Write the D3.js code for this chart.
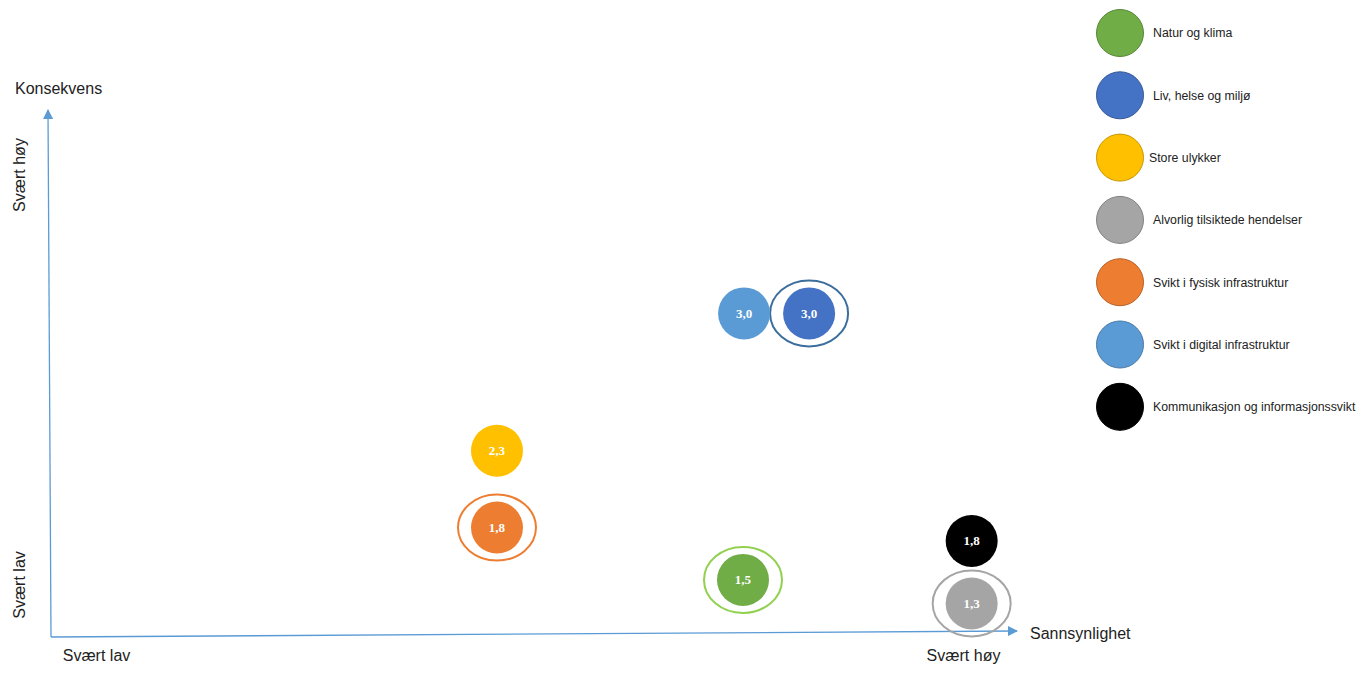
<!DOCTYPE html>
<html>
<head>
<meta charset="utf-8">
<script src="https://cdn.jsdelivr.net/npm/d3@7"></script>
<style>
  body { margin: 0; background: #fff; }
  svg { display: block; }
  text { font-family: "Liberation Sans", Arial, sans-serif; fill: #222; }
  .val { font-family: "Liberation Serif", "Times New Roman", serif; font-weight: bold; fill: #fff; font-size: 13px; }
</style>
</head>
<body>
<div class="chart"></div>
<script>
// categories and colours
var categories = ['Natur og klima', 'Liv, helse og miljø', 'Store ulykker',
    'Alvorlig tilsiktede hendelser', 'Svikt i fysisk infrastruktur',
    'Svikt i digital infrastruktur', 'Kommunikasjon og informasjonssvikt'];
var colors = ['#70AD47', '#4472C4', '#FFC000', '#A5A5A5', '#ED7D31', '#5B9BD5', '#000000'];
var ringColors = ['#92D050', '#3B6E9C', null, '#A5A5A5', '#ED7D31', null, null];

// position of each risk: sannsynlighet (x) and konsekvens (y), 1 = svært lav, 5 = svært høy
var sannsynlighet = [3.985, 4.29, 2.85, 5.04, 2.85, 3.99, 5.04];
var konsekvens = [1.05, 3.65, 2.31, 0.82, 1.56, 3.65, 1.43];
var scores = ['1,5', '3,0', '2,3', '1,3', '1,8', '3,0', '1,8'];

var tickValues = [1, 5];
var tickLabels = ['Svært lav', 'Svært høy'];

var fullWidth = 1364;
var fullHeight = 675;

var svg = d3.select('.chart')
            .append('svg')
            .attr('width', fullWidth)
            .attr('height', fullHeight);

var x = d3.scaleLinear().domain([1, 5]).range([96, 963]);
var y = d3.scaleLinear().domain([1, 5]).range([585, 175]);

var axisColor = '#5B9BD5';

svg.append('defs').append('marker')
    .attr('id', 'arrow')
    .attr('viewBox', '0 0 10 10')
    .attr('refX', 9).attr('refY', 5)
    .attr('markerWidth', 10).attr('markerHeight', 10)
    .attr('markerUnits', 'userSpaceOnUse')
    .attr('orient', 'auto')
    .append('path')
    .attr('d', 'M0,0 L10,5 L0,10 Z')
    .attr('fill', axisColor);

// axis lines with arrows
svg.append('line')
    .attr('x1', 51).attr('y1', 637)
    .attr('x2', 48).attr('y2', 110)
    .attr('stroke', axisColor).attr('stroke-width', 1.3)
    .attr('marker-end', 'url(#arrow)');

svg.append('line')
    .attr('x1', 51).attr('y1', 637)
    .attr('x2', 1017).attr('y2', 631)
    .attr('stroke', axisColor).attr('stroke-width', 1.3)
    .attr('marker-end', 'url(#arrow)');

// tick labels via d3 axes
var xAxis = d3.axisBottom(x)
    .tickValues(tickValues)
    .tickSize(0)
    .tickFormat(function (d, i) { return tickLabels[i]; });

var gx = svg.append('g')
    .attr('transform', 'translate(0,647)')
    .call(xAxis);
gx.select('.domain').remove();
gx.selectAll('text')
    .attr('font-size', 16)
    .attr('font-family', '"Liberation Sans", Arial, sans-serif')
    .attr('fill', '#222');

var yAxis = d3.axisLeft(y)
    .tickValues(tickValues)
    .tickSize(0)
    .tickFormat(function (d, i) { return tickLabels[i]; });

var gy = svg.append('g')
    .attr('transform', 'translate(19,0)')
    .call(yAxis);
gy.select('.domain').remove();
gy.selectAll('.tick').attr('transform', null);
gy.selectAll('text')
    .attr('font-size', 16)
    .attr('font-family', '"Liberation Sans", Arial, sans-serif')
    .attr('fill', '#222')
    .attr('x', 0).attr('y', 0).attr('dy', '0.35em')
    .attr('text-anchor', 'middle')
    .attr('transform', function (d) { return 'translate(0,' + y(d) + ') rotate(-90)'; });

// axis titles
svg.append('text')
    .attr('x', 15).attr('y', 94)
    .attr('font-size', 16)
    .text('Konsekvens');

svg.append('text')
    .attr('x', 1030).attr('y', 639)
    .attr('font-size', 16)
    .text('Sannsynlighet');

// bubbles
var data = categories.map(function (c, i) {
    return { name: c, color: colors[i], ring: ringColors[i], x: sannsynlighet[i], y: konsekvens[i], score: scores[i] };
});

var bubbles = svg.append('g').selectAll('g')
    .data(data)
    .enter().append('g')
    .attr('transform', function (d) { return 'translate(' + x(d.x) + ',' + y(d.y) + ')'; });

bubbles.filter(function (d) { return d.ring; })
    .append('ellipse')
    .attr('rx', 39).attr('ry', 33)
    .attr('fill', 'none')
    .attr('stroke', function (d) { return d.ring; })
    .attr('stroke-width', 2);

bubbles.append('circle')
    .attr('r', 26)
    .attr('fill', function (d) { return d.color; });

bubbles.append('text')
    .attr('class', 'val')
    .attr('text-anchor', 'middle')
    .attr('dy', '0.35em')
    .text(function (d) { return d.score; });

// legend
var legend = svg.append('g').selectAll('g')
    .data(data)
    .enter().append('g')
    .attr('transform', function (d, i) { return 'translate(1120,' + (33 + i * 62.3) + ')'; });

legend.append('circle')
    .attr('r', 23.5)
    .attr('fill', function (d) { return d.color; })
    .attr('stroke', function (d) { return d3.color(d.color).darker(0.7); })
    .attr('stroke-width', 1);

legend.append('text')
    .attr('x', function (d, i) { return i == 2 ? 29 : 33; })
    .attr('dy', '0.35em')
    .attr('font-size', 12.3)
    .text(function (d) { return d.name; });
</script>
</body>
</html>
